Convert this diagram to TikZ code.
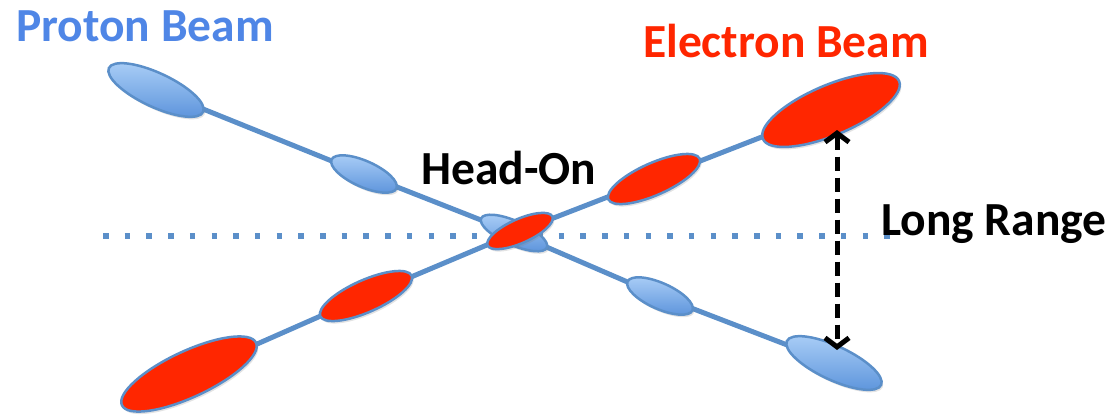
\documentclass[tikz,border=0pt]{standalone}
\usepackage{fontspec}
\setmainfont{Carlito}
\usetikzlibrary{shapes.geometric,arrows.meta,shadows}
\pgfdeclarelayer{background}
\pgfsetlayers{background,main}

\definecolor{beamline}{HTML}{5B8FC9}
\definecolor{protontext}{HTML}{4F86E6}
\definecolor{electronfill}{HTML}{FF2600}
\definecolor{protonlight}{HTML}{ACCFF7}
\definecolor{protondark}{HTML}{5A92DB}

\tikzset{
  bunch/.style={ellipse, inner sep=0pt, draw=beamline, line width=2.5pt,
    drop shadow={opacity=0.22, shadow xshift=1.5pt, shadow yshift=-2.5pt}},
  proton/.style={bunch, top color=protonlight, bottom color=protondark},
  electron/.style={bunch, fill=electronfill},
  beam/.style={draw=beamline, line width=5pt},
  axisline/.style={draw=beamline, line width=5.5pt, dash pattern=on 5.5pt off 16.2pt},
  separation/.style={draw=black, line width=5pt, dash pattern=on 14pt off 7pt,
    {Straight Barb[length=9pt,width=24pt]}-{Straight Barb[length=9pt,width=24pt]}},
  label/.style={anchor=base west, inner sep=0pt, font=\bfseries\fontsize{47.5}{56}\selectfont}
}

\begin{document}
\begin{tikzpicture}[x=1pt, y=-1pt]
  \path[use as bounding box] (0,0) rectangle (1113,416);

  % proton bunches, moving down to the right
  \node[proton, minimum width=104pt, minimum height=34pt, rotate=-25] (p1) at (156,90) {};
  \node[proton, minimum width=71pt, minimum height=26pt, rotate=-24] (p2) at (364,174) {};
  \node[proton, minimum width=72pt, minimum height=24pt, rotate=-24] (p3) at (514,233) {};
  \node[proton, minimum width=71pt, minimum height=26pt, rotate=-24] (p4) at (660,296) {};
  \node[proton, minimum width=104pt, minimum height=34pt, rotate=-25] (p5) at (834,363) {};

  % electron bunches, moving up to the right
  \node[electron, minimum width=148pt, minimum height=46pt, rotate=25] (e1) at (189,374) {};
  \node[electron, minimum width=100pt, minimum height=32pt, rotate=24] (e2) at (366,296) {};
  \node[electron, minimum width=71pt, minimum height=24pt, rotate=24] (e3) at (520,231) {};
  \node[electron, minimum width=100pt, minimum height=32pt, rotate=24] (e4) at (654,179) {};
  \node[electron, minimum width=148pt, minimum height=50pt, rotate=23] (e5) at (831,110) {};

  \coordinate (axisL) at (103,236);
  \coordinate (axisR) at (895,236);

  \begin{pgfonlayer}{background}
    \draw[axisline] (axisL) -- (axisR);
    \draw[beam] (p1.center) -- (p2.center) -- (p3.center) -- (p4.center) -- (p5.center);
    \draw[beam] (e1.center) -- (e2.center) -- (e3.center) -- (e4.center) -- (e5.center);
  \end{pgfonlayer}

  % long-range separation between the outer bunches
  \coordinate (lrtop) at (837,130);
  \coordinate (lrbot) at (837,350);
  \draw[separation] (lrtop) -- (lrbot);

  % labels
  \node[label, text=protontext] (tp) at (16,41) {Proton Beam};
  \node[label, text=electronfill] (te) at (643,57) {Electron Beam};
  \node[label] (th) at (421,184) {Head-On};
  \node[label] (tl) at (881,235) {Long Range};
\end{tikzpicture}
\end{document}
